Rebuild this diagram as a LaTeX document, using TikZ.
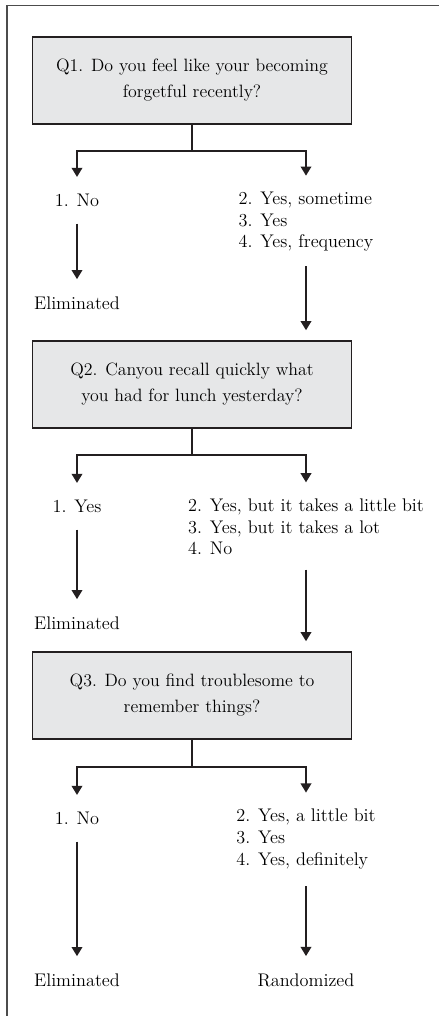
\documentclass[tikz,border=0pt]{standalone}
\usepackage{tikz}
\usetikzlibrary{arrows.meta}
\definecolor{boxgray}{RGB}{230,231,232}
\definecolor{inkdark}{RGB}{35,31,32}
\tikzset{every picture/.style={line width=0.75pt}}
\tikzset{
  qbox/.style={draw=inkdark, fill=boxgray, line width=1.3pt, minimum width=7.975cm,
    minimum height=2.175cm, align=center, font=\fontsize{12.7}{18.5}\selectfont},
  ans/.style={inner sep=0pt, align=left, font=\fontsize{13}{15.3}\selectfont},
  link/.style={draw=inkdark, line width=1.3pt},
  arr/.style={link, -{Triangle[width=7.5pt,length=6.5pt]}}
}

\begin{document}
\begin{tikzpicture}[x=0.025cm,y=-0.025cm]
\useasboundingbox (0,0) rectangle (439,1016);
\draw [line width=0.8pt, black!70] (439,5.5) -- (7,5.5) -- (7,1016);
%
\node [qbox] (q1) at (192,80.5) {Q1. Do you feel like your becoming\\forgetful recently?};
\coordinate (j1) at (192,151);
\node [ans] (n1) at (77,200) {1. No};
\node [ans] (r1) at (306,222) {2. Yes, sometime\\3. Yes\\4. Yes, frequency};
\node [ans] (e1) at (77,303) {Eliminated};
%
\node [qbox] (q2) at (192,384.5) {Q2. Canyou recall quickly what\\you had for lunch yesterday?};
\coordinate (j2) at (192,455);
\node [ans] (n2) at (77,506) {1. Yes};
\node [ans] (r2) at (306,527) {2. Yes, but it takes a little bit\\3. Yes, but it takes a lot\\4. No};
\node [ans] (e2) at (77,623) {Eliminated};
%
\node [qbox] (q3) at (192,695.5) {Q3. Do you find troublesome to\\remember things?};
\coordinate (j3) at (192,767);
\node [ans] (n3) at (77,818) {1. No};
\node [ans] (r3) at (306,839) {2. Yes, a little bit\\3. Yes\\4. Yes, definitely};
\node [ans] (e3) at (77,980) {Eliminated};
\node [ans] (rd) at (306,980) {Randomized};
%
\draw [link] (q1.south) -- (j1);
\draw [arr, shorten >=11.5] (j1) -| (n1);
\draw [arr, shorten >=11.5] (j1) -| (r1);
\draw [arr, shorten <=12, shorten >=12] (n1) -- (e1);
\draw [arr, shorten <=10, shorten >=7] (r1.south) -- (r1.south |- q2.north);
%
\draw [link] (q2.south) -- (j2);
\draw [arr, shorten >=11.5] (j2) -| (n2);
\draw [arr, shorten >=11.5] (j2) -| (r2);
\draw [arr, shorten <=12, shorten >=12] (n2) -- (e2);
\draw [arr, shorten <=10, shorten >=7] (r2.south) -- (r2.south |- q3.north);
%
\draw [link] (q3.south) -- (j3);
\draw [arr, shorten >=11.5] (j3) -| (n3);
\draw [arr, shorten >=11.5] (j3) -| (r3);
\draw [arr, shorten <=12, shorten >=12] (n3) -- (e3);
\draw [arr, shorten <=12, shorten >=12] (r3) -- (rd);
\end{tikzpicture}
\end{document}
